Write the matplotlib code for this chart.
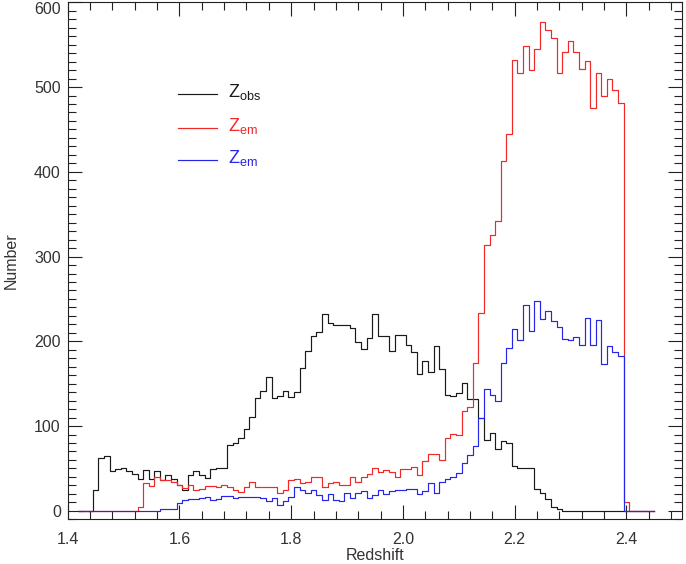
import numpy as np
import matplotlib
matplotlib.use("Agg")
import matplotlib.pyplot as plt
from matplotlib.ticker import MultipleLocator

plt.rcParams['font.family'] = ['Liberation Sans', 'DejaVu Sans']
plt.rcParams['mathtext.default'] = 'regular'

# Bin centres (redshift), width 0.01
z_start = 1.42
bin_width = 0.01

z_obs = [0, 0, 0, 25, 62, 65, 47, 49, 51, 47, 44, 38, 48, 38, 47, 36, 42, 38, 30, 24,
         42, 47, 42, 39, 49, 50, 51, 78, 80, 86, 96, 111, 133, 141, 158, 133, 135, 141, 134, 140,
         168, 188, 206, 211, 232, 222, 219, 219, 219, 216, 199, 191, 204, 232, 206, 206, 188, 208, 208, 196,
         187, 161, 177, 164, 194, 167, 137, 136, 139, 151, 132, 132, 109, 84, 92, 73, 82, 80, 53, 51,
         50, 50, 26, 21, 14, 4, 2,
         0, 0, 0, 0, 0, 0, 0, 0, 0, 0, 0, 0, 0, 0, 0, 0, 0]

z_em_red = [0, 0, 0, 0, 0, 0, 0, 0, 0, 0, 0,
            5, 33, 29, 40, 36, 36, 34, 31, 27, 30, 25, 26, 29, 29, 28, 30, 28, 24, 22,
            28, 34, 28, 28, 28, 28, 21, 24, 36, 38, 33, 34, 40, 40, 28, 33, 34, 30, 30, 40,
            34, 40, 44, 50, 46, 48, 46, 40, 49, 49, 52, 42, 59, 67, 67, 60, 86, 91, 89, 118,
            123, 175, 233, 314, 325, 342, 413, 445, 532, 517, 549, 520, 545, 577, 567, 558, 517, 541, 554, 541,
            521, 531, 475, 516, 489, 510, 497, 481, 10,
            0, 0, 0, 0, 0]

z_em_blue = [0, 0, 0, 0, 0, 0, 0, 0, 0, 0, 0, 0, 0, 0, 0,
             2, 2, 2, 9, 13, 14, 14, 15, 16, 13, 14, 18, 17, 15, 16,
             16, 16, 16, 15, 12, 15, 7, 12, 16, 28, 24, 21, 25, 19, 13, 20, 13, 12, 21, 15,
             21, 23, 15, 19, 25, 20, 23, 24, 24, 26, 26, 20, 23, 33, 21, 34, 38, 40, 45, 56,
             66, 77, 109, 144, 137, 129, 174, 192, 214, 202, 243, 212, 248, 226, 236, 224, 217, 203, 201, 205,
             196, 228, 196, 225, 173, 194, 187, 183,
             0, 0, 0, 0, 0, 0]

n = len(z_obs)
z = np.round(z_start + bin_width * np.arange(n), 2)

legend_labels = [r'$Z_{obs}$', r'$Z_{em}$', r'$Z_{em}$']
colors = ['#1a1a1a', '#f02828', '#2626e8']
text_color = '#333333'

fig = plt.figure(figsize=(6.86, 5.64), dpi=100)
ax = fig.add_axes([67.7 / 686, 44.7 / 564, 614.6 / 686, 517 / 564])

for vals, c in zip([z_obs, z_em_red, z_em_blue], colors):
    ax.step(z, vals, where='mid', color=c, lw=0.85)

ax.set_xlim(1.4, 2.5)
ax.set_ylim(-10, 600)
ax.xaxis.set_minor_locator(MultipleLocator(0.04))
ax.yaxis.set_minor_locator(MultipleLocator(10))
ax.set_xticks([1.4, 1.6, 1.8, 2.0, 2.2, 2.4])
ax.set_xticklabels(['1.4', '1.6', '1.8', '2.0', '2.2', '2.4'])
ax.set_yticks([0, 100, 200, 300, 400, 500, 600])
ax.set_yticklabels(['0', '100', '200', '300', '400', '500', '600'])

ax.tick_params(which='both', direction='in', top=True, right=True, width=0.8, color='#222222',
               labelsize=11.5, labelcolor=text_color)
ax.tick_params(which='major', length=10)
ax.tick_params(which='minor', length=5.5)
ax.tick_params(axis='x', which='major', pad=9)
ax.tick_params(axis='y', which='major', pad=5)
for s in ax.spines.values():
    s.set_linewidth(0.8)
    s.set_color('#222222')

ylabs = ax.get_yticklabels()
ylabs[-1].set_verticalalignment('top')

ax.set_xlabel('Redshift', fontsize=11.5, color=text_color, labelpad=1)
ax.set_ylabel('Number', fontsize=11.5, color=text_color, labelpad=11)

ly = [0.8226, 0.7574, 0.695]
for lab, c, yy in zip(legend_labels, colors, ly):
    ax.plot([0.1795, 0.243], [yy, yy], color=c, lw=0.85, transform=ax.transAxes)
    ax.text(0.2605, yy + 0.004, lab, color=c, fontsize=13, va='center', ha='left',
            transform=ax.transAxes)

fig.savefig('out.png', dpi=100)
